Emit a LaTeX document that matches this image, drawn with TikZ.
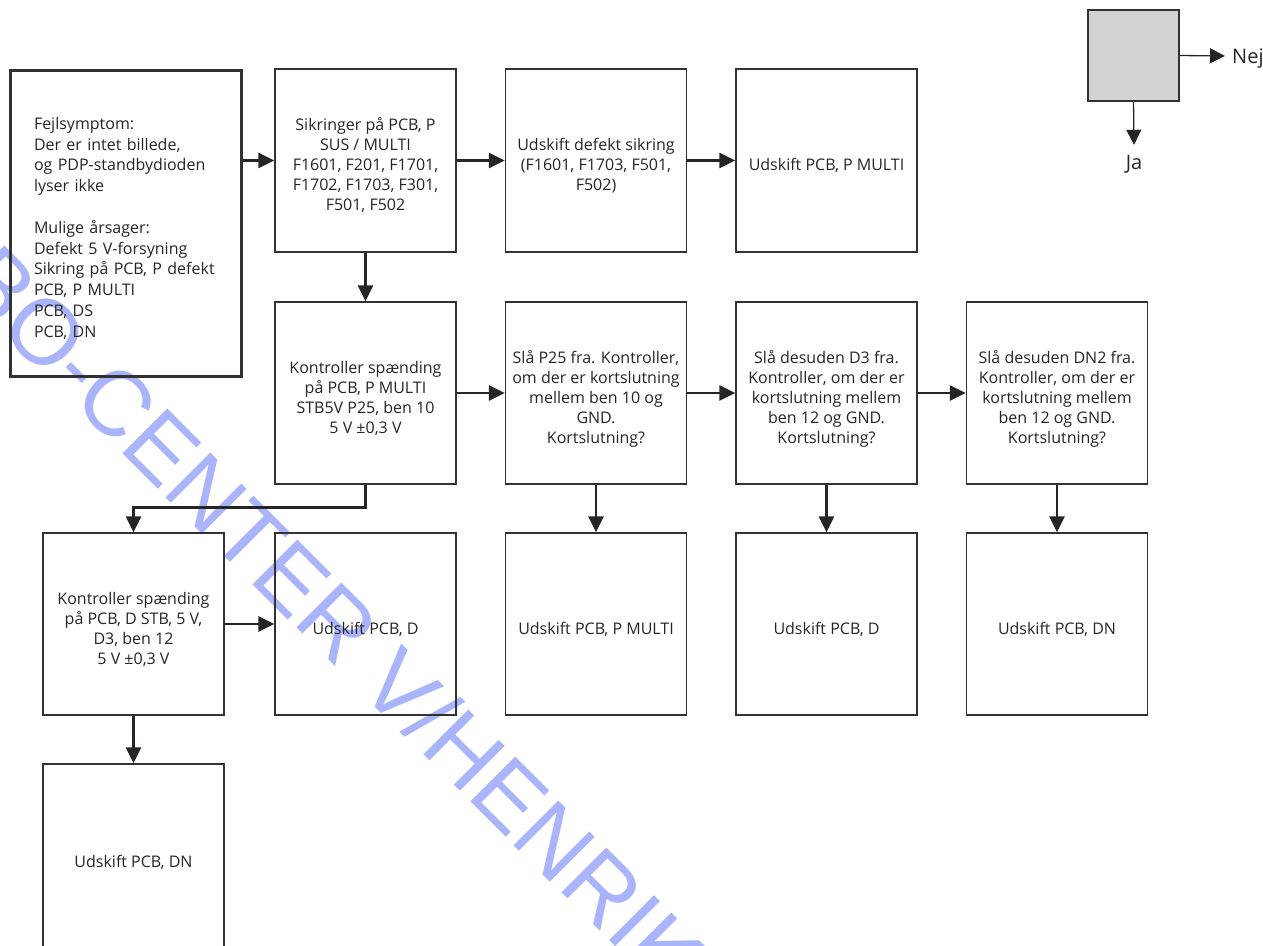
\documentclass[tikz,border=0pt]{standalone}
\usepackage{fontspec}
\setmainfont{Open Sans}
\newfontfamily\wmfont{Liberation Sans}
\usetikzlibrary{arrows.meta}
\definecolor{ink}{RGB}{38,36,37}
\definecolor{edge}{RGB}{50,50,50}
\definecolor{legfill}{RGB}{209,211,212}
\definecolor{wmblue}{RGB}{170,180,250}
% invisible struts that set the text block a little below the box centre
\newcommand\topgap{\rule{0pt}{25.4pt}}
\newcommand\botgap{\rule[-5pt]{0pt}{5pt}}
\begin{document}
\begin{tikzpicture}[x=1pt,y=-1pt,
  every node/.style={text=ink},
  box/.style={draw=edge, line width=1.5pt, minimum width=181pt, minimum height=182pt,
    inner sep=0pt, align=center, font=\fontsize{16}{20}\selectfont},
  flow/.style={draw=ink, line width=2.7pt, -{Triangle[length=16pt,width=15pt]}},
  legflow/.style={draw=ink, line width=1.3pt, -{Triangle[length=15pt,width=15pt]}},
  lbl/.style={font=\fontsize{20}{24}\selectfont, inner sep=0pt},
  wm/.style={text=wmblue, font=\wmfont\fontsize{92.3}{100}\selectfont, inner sep=0pt}
]
\useasboundingbox (0,0) rectangle (1263,945);

% watermark lettering across the sheet
\begin{scope}
  \clip (0,0) rectangle (1263,945);
  \node[wm, rotate=-45, anchor=base west] (wmark) at (-46,285.5) {BO-CENTER V/HENRIK};
\end{scope}

% legend: decision box with its two exits
\node[draw=edge, line width=1.3pt, fill=legfill, minimum width=91pt, minimum height=91pt] (leg) at (1133.5,55.5) {};
\node[lbl, anchor=west, text depth=0pt, inner xsep=7pt] (nej) at (1225,56) {Nej};
\node[lbl, inner ysep=10pt] (ja) at (1134,164) {Ja};
\draw[legflow] (leg.east) -- (nej.west);
\draw[legflow] (leg.south) -- (ja.north);

% fault description
\node[box, line width=3pt, minimum width=231pt, minimum height=306pt, text width=183pt,
      inner xsep=24pt, align=left, font=\fontsize{16}{20.8}\selectfont] (sym) at (125.5,223)
  {\topgap Fejlsymptom:\\ Der er intet billede,\\ og PDP-standbydioden\\ lyser ikke\\[20.8pt]
   Mulige årsager:\\ Defekt 5 V-forsyning\\ Sikring på PCB, P defekt\\ PCB, P MULTI\\ PCB, DS\\ PCB, DN\botgap};

% first row
\node[box, minimum height=183pt] (A) at (365.5,160.5)
  {\topgap Sikringer på PCB, P\\ SUS / MULTI\\ F1601, F201, F1701,\\ F1702, F1703, F301,\\ F501, F502\botgap};
\node[box, minimum height=183pt] (B) at (596,160.5)
  {\topgap Udskift defekt sikring\\ (F1601, F1703, F501,\\ F502)\botgap};
\node[box, minimum height=183pt] (C) at (826.5,160.5) {\topgap Udskift PCB, P MULTI\botgap};

% second row
\node[box] (D) at (365.5,393)
  {\topgap Kontroller spænding\\ på PCB, P MULTI\\ STB5V P25, ben 10\\ 5 V ±0,3 V\botgap};
\node[box] (E) at (596,393)
  {\topgap Slå P25 fra. Kontroller,\\ om der er kortslutning\\ mellem ben 10 og\\ GND.\\ Kortslutning?\botgap};
\node[box] (F) at (826.5,393)
  {\topgap Slå desuden D3 fra.\\ Kontroller, om der er\\ kortslutning mellem\\ ben 12 og GND.\\ Kortslutning?\botgap};
\node[box] (G) at (1057,393)
  {\topgap Slå desuden DN2 fra.\\ Kontroller, om der er\\ kortslutning mellem\\ ben 12 og GND.\\ Kortslutning?\botgap};

% third row
\node[box] (H) at (133.5,624)
  {\topgap Kontroller spænding\\ på PCB, D STB, 5 V,\\ D3, ben 12\\ 5 V ±0,3 V\botgap};
\node[box] (I) at (365.5,624) {\topgap Udskift PCB, D\botgap};
\node[box] (J) at (596,624) {\topgap Udskift PCB, P MULTI\botgap};
\node[box] (K) at (826.5,624) {\topgap Udskift PCB, D\botgap};
\node[box] (L) at (1057,624) {\topgap Udskift PCB, DN\botgap};

% fourth row, running off the lower edge
\node[box, minimum height=186pt] (M) at (133.5,857) {\topgap Udskift PCB, DN\botgap};

% connectors
\draw[flow] (sym.east |- A.west) -- (A.west);
\draw[flow] (A.east) -- (B.west);
\draw[flow] (B.east) -- (C.west);
\draw[flow] (A.south) -- (D.north);
\draw[flow] (D.east) -- (E.west);
\draw[flow] (E.east) -- (F.west);
\draw[flow] (F.east) -- (G.west);
\draw[flow] (E.south) -- (J.north);
\draw[flow] (F.south) -- (K.north);
\draw[flow] (G.south) -- (L.north);
\draw[flow] (D.south) -- ++(0,23) -| (H.north);
\draw[flow] (H.east) -- (I.west);
\draw[flow] (H.south) -- (M.north);
\end{tikzpicture}
\end{document}
